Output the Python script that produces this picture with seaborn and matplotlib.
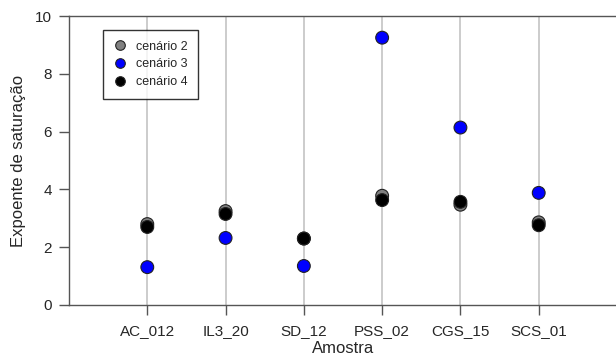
import matplotlib
matplotlib.use("Agg")
import matplotlib.pyplot as plt
import seaborn as sns
import pandas as pd

amostras = ["AC_012", "IL3_20", "SD_12", "PSS_02", "CGS_15", "SCS_01"]
cenario_2 = [2.80, 3.25, 2.30, 3.78, 3.47, 2.86]
cenario_3 = [1.31, 2.32, 1.35, 9.25, 6.14, 3.88]
cenario_4 = [2.70, 3.15, 2.30, 3.63, 3.57, 2.76]
cenarios = ["cenário 2", "cenário 3", "cenário 4"]
cores = ["#808080", "#0000ff", "#000000"]

df = pd.DataFrame({
    "Amostra": amostras * 3,
    "valor": cenario_2 + cenario_3 + cenario_4,
    "cenario": [c for c in cenarios for _ in amostras],
})

sns.set_style("white")
plt.rcParams["font.family"] = ["Liberation Sans", "DejaVu Sans"]

fig = plt.figure(figsize=(6.16, 3.6), dpi=100)
ax = fig.add_axes([69 / 616, 55 / 360, 548 / 616, 289 / 360])

for i in range(len(amostras)):
    ax.axvline(i, color="#cccccc", lw=1.4, zorder=0)

sns.scatterplot(data=df, x="Amostra", y="valor", hue="cenario",
                hue_order=cenarios, palette=cores, s=85,
                edgecolor="#222222", linewidth=0.8, ax=ax, zorder=3)

ax.set_xlim(-1, 6)
ax.set_ylim(0, 10)
ax.set_yticks([0, 2, 4, 6, 8, 10])
ax.set_xlabel("Amostra", fontsize=12, labelpad=1.5)
ax.set_ylabel("Expoente de saturação", fontsize=12, labelpad=6)
ax.tick_params(axis="both", direction="out", length=7, width=1,
               color="#555555", labelsize=11, bottom=True, left=True)
ax.tick_params(axis="x", pad=7)
ax.tick_params(axis="y", pad=5.5)
for side in ["left", "bottom", "top"]:
    ax.spines[side].set_color("#555555")
    ax.spines[side].set_linewidth(1)
ax.spines["right"].set_visible(False)

leg = ax.legend(title=None, loc="upper left",
                bbox_to_anchor=((103 - 69) / 548, (305 - 30) / 289),
                borderaxespad=0, frameon=True, fancybox=False,
                edgecolor="black", fontsize=9, borderpad=0.85,
                handlelength=1.0, handletextpad=0.8,
                labelspacing=0.45, markerscale=0.75)
leg.get_frame().set_linewidth(1)

fig.savefig("out.png", dpi=100)
